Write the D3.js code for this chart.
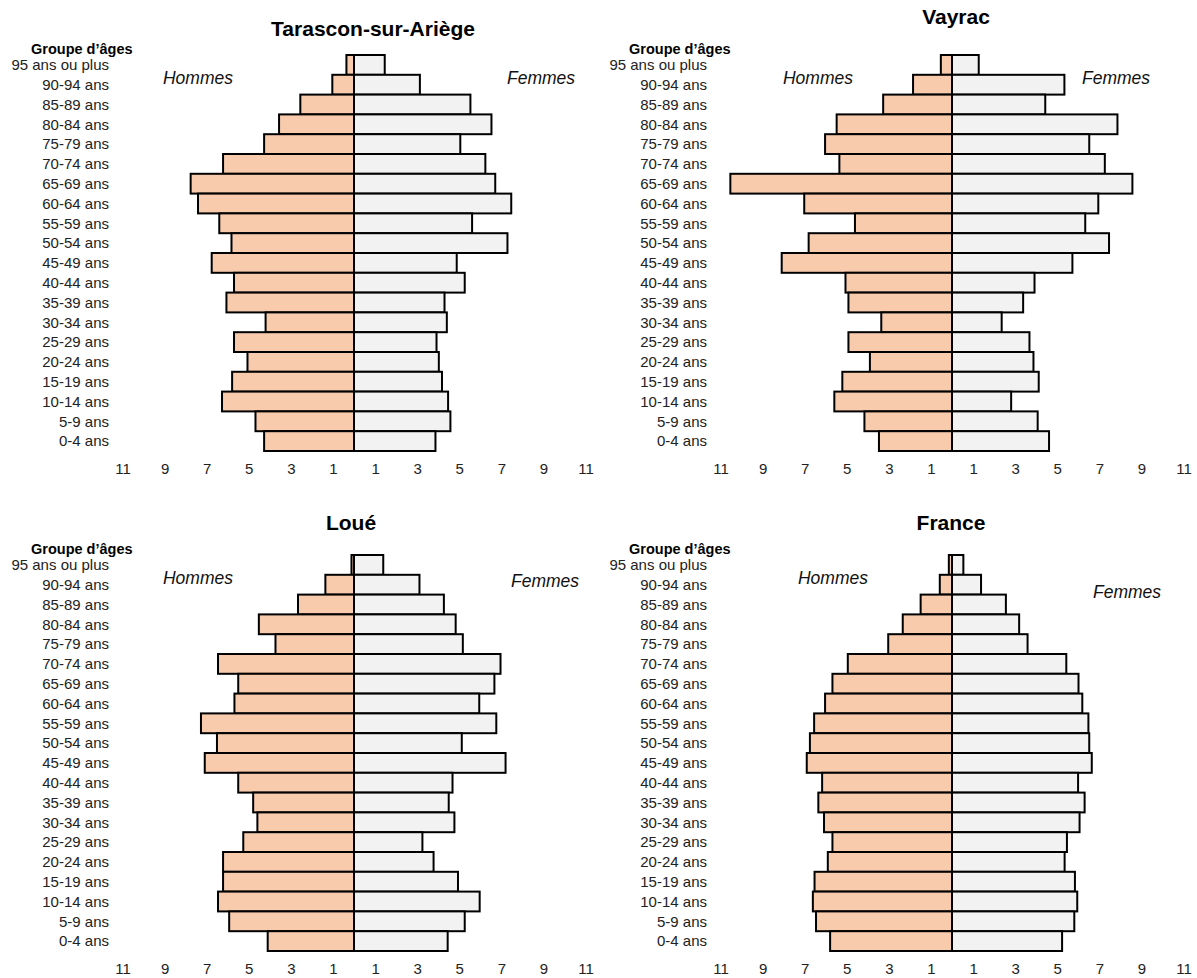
<!DOCTYPE html>
<html>
<head>
<meta charset="utf-8">
<script src="https://cdn.jsdelivr.net/npm/d3@7"></script>
<style>
  html, body { margin: 0; padding: 0; background: #fff; }
  svg { display: block; font-family: "Liberation Sans", Arial, sans-serif; }
</style>
</head>
<body>
<svg id="chart" width="1197" height="978"></svg>
<script>
// ---- Data ----
const ageGroups = ["95 ans ou plus", "90-94 ans", "85-89 ans", "80-84 ans", "75-79 ans",
  "70-74 ans", "65-69 ans", "60-64 ans", "55-59 ans", "50-54 ans", "45-49 ans",
  "40-44 ans", "35-39 ans", "30-34 ans", "25-29 ans", "20-24 ans", "15-19 ans",
  "10-14 ans", "5-9 ans", "0-4 ans"];

const tickValues = [-11, -9, -7, -5, -3, -1, 1, 3, 5, 7, 9, 11];

const panelTitles = ["Tarascon-sur-Ariège", "Vayrac", "Loué", "France"];

const tarasconHommes = [0.36, 1.03, 2.55, 3.56, 4.27, 6.22, 7.76, 7.41, 6.40, 5.82, 6.76, 5.70, 6.06, 4.20, 5.70, 5.06, 5.79, 6.27, 4.68, 4.27];
const tarasconFemmes = [1.46, 3.13, 5.53, 6.53, 5.05, 6.24, 6.71, 7.47, 5.61, 7.29, 4.88, 5.26, 4.30, 4.41, 3.92, 4.03, 4.18, 4.47, 4.58, 3.87];

const vayracHommes = [0.53, 1.85, 3.27, 5.48, 6.03, 5.35, 10.53, 7.02, 4.61, 6.81, 8.09, 5.06, 4.92, 3.36, 4.92, 3.90, 5.21, 5.59, 4.16, 3.47];
const vayracFemmes = [1.27, 5.34, 4.43, 7.86, 6.52, 7.26, 8.57, 6.95, 6.33, 7.46, 5.72, 3.92, 3.38, 2.36, 3.68, 3.87, 4.12, 2.81, 4.07, 4.61];

const loueHommes = [0.12, 1.36, 2.66, 4.52, 3.73, 6.46, 5.50, 5.68, 7.27, 6.51, 7.09, 5.50, 4.79, 4.59, 5.26, 6.22, 6.22, 6.46, 5.93, 4.10];
const loueFemmes = [1.39, 3.11, 4.27, 4.83, 5.17, 6.96, 6.67, 5.95, 6.76, 5.12, 7.20, 4.68, 4.50, 4.77, 3.25, 3.78, 4.94, 5.97, 5.26, 4.45];

const franceHommes = [0.15, 0.58, 1.49, 2.34, 3.03, 4.95, 5.68, 6.03, 6.55, 6.75, 6.90, 6.17, 6.35, 6.08, 5.68, 5.90, 6.53, 6.61, 6.46, 5.79];
const franceFemmes = [0.54, 1.38, 2.56, 3.19, 3.59, 5.43, 6.01, 6.19, 6.48, 6.52, 6.64, 5.99, 6.30, 6.06, 5.46, 5.35, 5.84, 5.95, 5.81, 5.23];

// ---- Layout ----
const panels = [
  { title: panelTitles[0], men: tarasconHommes, women: tarasconFemmes, cx: 354, top: 55, titleX: 373, titleY: 36,
    hx: 198, hy: 84, fx: 541, fy: 84 },
  { title: panelTitles[1], men: vayracHommes, women: vayracFemmes, cx: 952, top: 55, titleX: 956, titleY: 24,
    hx: 818, hy: 84, fx: 1116, fy: 84 },
  { title: panelTitles[2], men: loueHommes, women: loueFemmes, cx: 354, top: 555, titleX: 351, titleY: 530,
    hx: 198, hy: 584, fx: 545, fy: 587 },
  { title: panelTitles[3], men: franceHommes, women: franceFemmes, cx: 952, top: 555, titleX: 951, titleY: 530,
    hx: 833, hy: 584, fx: 1127, fy: 598 }
];

const unit = 21.05;
const bandH = 396;
const menColor = "#F8CBAD";
const womenColor = "#F2F2F2";

const svg = d3.select("#chart");

panels.forEach(p => {
  const g = svg.append("g");
  const x = d3.scaleLinear().domain([-11, 11]).range([p.cx - 11 * unit, p.cx + 11 * unit]);
  const y = d3.scaleBand().domain(ageGroups).range([p.top, p.top + bandH]).padding(0);

  // Title
  g.append("text").attr("x", p.titleX).attr("y", p.titleY)
    .attr("text-anchor", "middle").attr("font-weight", "bold").attr("font-size", 21)
    .attr("fill", "#000").text(p.title);

  // Groupe d'âges
  g.append("text").attr("x", p.cx - 323).attr("y", p.top - 1)
    .attr("font-weight", "bold").attr("font-size", 14.5).attr("fill", "#000")
    .text("Groupe d\u2019\u00e2ges");

  // Age labels
  g.selectAll(".age").data(ageGroups).enter().append("text")
    .attr("x", p.cx - 245)
    .attr("y", d => y(d) + y.bandwidth() / 2)
    .attr("dy", "0.35em")
    .attr("text-anchor", "end").attr("font-size", 15).attr("fill", "#222")
    .text(d => d);

  // Men bars
  g.selectAll(".m").data(ageGroups).enter().append("rect")
    .attr("x", (d, i) => x(-p.men[i]))
    .attr("y", d => y(d))
    .attr("width", (d, i) => x(0) - x(-p.men[i]))
    .attr("height", y.bandwidth())
    .attr("fill", menColor).attr("stroke", "#000").attr("stroke-width", 2);

  // Women bars
  g.selectAll(".w").data(ageGroups).enter().append("rect")
    .attr("x", x(0))
    .attr("y", d => y(d))
    .attr("width", (d, i) => x(p.women[i]) - x(0))
    .attr("height", y.bandwidth())
    .attr("fill", womenColor).attr("stroke", "#000").attr("stroke-width", 2);

  // Center line
  g.append("line").attr("x1", x(0)).attr("x2", x(0))
    .attr("y1", p.top).attr("y2", p.top + bandH)
    .attr("stroke", "#000").attr("stroke-width", 2);

  // X axis (labels only)
  const axis = d3.axisBottom(x).tickValues(tickValues).tickSize(0)
    .tickFormat(d => Math.abs(d));
  const ax = g.append("g").attr("transform", `translate(0,${p.top + bandH + 9})`).call(axis);
  ax.select(".domain").remove();
  ax.selectAll("text").attr("font-size", 15).attr("fill", "#222")
    .attr("font-family", "Liberation Sans, Arial, sans-serif");

  // Hommes / Femmes
  g.append("text").attr("x", p.hx).attr("y", p.hy).attr("text-anchor", "middle")
    .attr("font-style", "italic").attr("font-size", 17.5).attr("fill", "#111").text("Hommes");
  g.append("text").attr("x", p.fx).attr("y", p.fy).attr("text-anchor", "middle")
    .attr("font-style", "italic").attr("font-size", 17.5).attr("fill", "#111").text("Femmes");
});
</script>
</body>
</html>
